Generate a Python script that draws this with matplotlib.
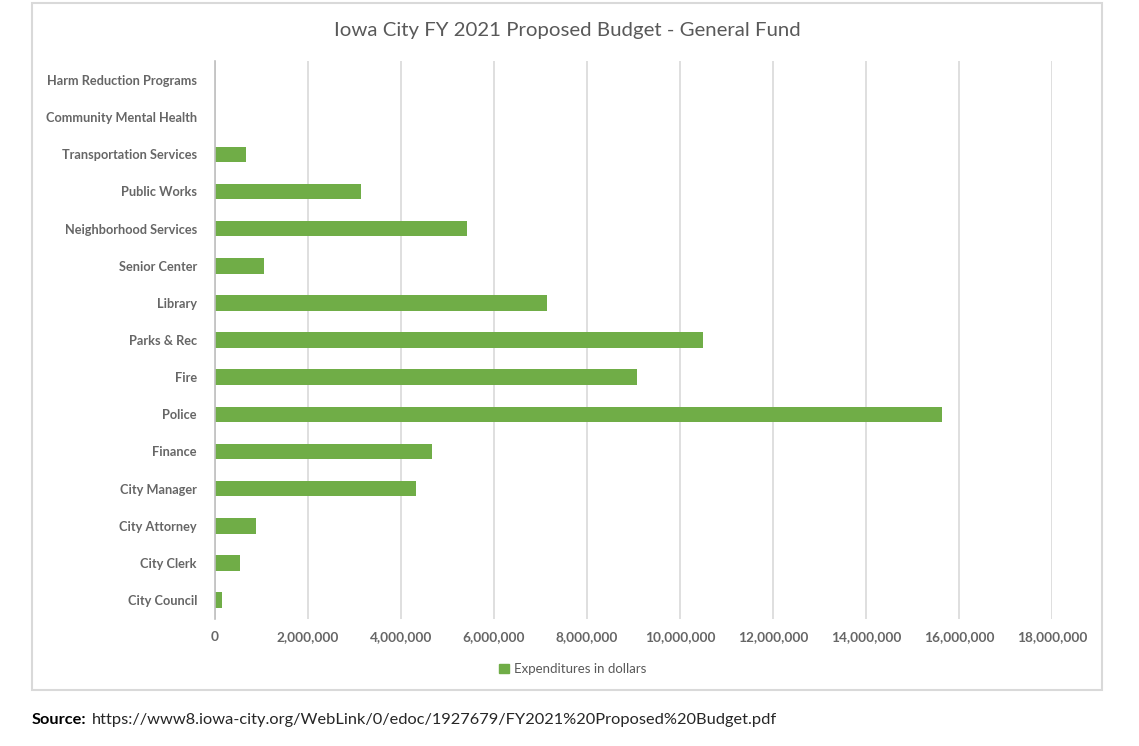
import matplotlib.pyplot as plt
import matplotlib.patches as mpatches
from matplotlib.ticker import FuncFormatter

departments = [
    "City Council", "City Clerk", "City Attorney", "City Manager", "Finance",
    "Police", "Fire", "Parks & Rec", "Library", "Senior Center",
    "Neighborhood Services", "Public Works", "Transportation Services",
    "Community Mental Health", "Harm Reduction Programs",
]
expenditures = [
    160000, 540000, 880000, 4320000, 4670000,
    15640000, 9080000, 10490000, 7140000, 1050000,
    5410000, 3140000, 670000, 0, 0,
]
x_ticks = list(range(0, 18000001, 2000000))

green = "#70AD47"
gray_text = "#595959"
label_gray = "#666666"
grid_col = "#D9D9D9"

plt.rcParams['font.family'] = ['Lato', 'DejaVu Sans']

fig = plt.figure(figsize=(11.39, 7.46), dpi=100)
ax = fig.add_axes([0.1888, 0.1708, 0.7349, 0.7468])

ax.barh(departments, expenditures, height=0.42, color=green)
ax.set_xlim(0, 18000000)
ax.set_ylim(-0.5, len(departments) - 0.5)
ax.set_xticks(x_ticks)
ax.xaxis.set_major_formatter(FuncFormatter(lambda v, p: f"{int(v):,}"))
ax.grid(axis='x', color=grid_col, linewidth=1.2)
ax.set_axisbelow(True)
for s in ['top', 'right', 'bottom']:
    ax.spines[s].set_visible(False)
ax.spines['left'].set_color("#BFBFBF")
ax.spines['left'].set_linewidth(1.2)
ax.tick_params(axis='both', length=0, colors=label_gray)
ax.tick_params(axis='y', pad=13, labelsize=9.2)
ax.tick_params(axis='x', pad=9, labelsize=9.8)
for lab in ax.get_yticklabels() + ax.get_xticklabels():
    lab.set_fontweight('bold')

fig.text(0.4978, 0.959, "Iowa City FY 2021 Proposed Budget - General Fund",
         ha='center', va='center', fontsize=14.7, color=gray_text)

handle = mpatches.Patch(color=green, label="Expenditures in dollars")
leg = fig.legend(handles=[handle], loc='center', bbox_to_anchor=(0.503, 0.103),
                 frameon=False, fontsize=9.5, handlelength=0.7, handleheight=0.7,
                 handletextpad=0.4)
for t in leg.get_texts():
    t.set_color(gray_text)

border = mpatches.Rectangle((0.0281, 0.0751), 0.9394, 0.9209, transform=fig.transFigure,
                            fill=False, edgecolor=grid_col, linewidth=1.5)
fig.patches.append(border)

src = fig.text(0.0281, 0.035, "Source:", ha='left', va='center', fontsize=11.8,
               fontweight='bold', color='black')
fig.canvas.draw()
bb = src.get_window_extent()
x_after = (bb.x1 + 5) / fig.bbox.width
fig.text(x_after, 0.035,
         "https://www8.iowa-city.org/WebLink/0/edoc/1927679/FY2021%20Proposed%20Budget.pdf",
         ha='left', va='center', fontsize=11.8, color="#262626")

fig.savefig("out.png", dpi=100)
